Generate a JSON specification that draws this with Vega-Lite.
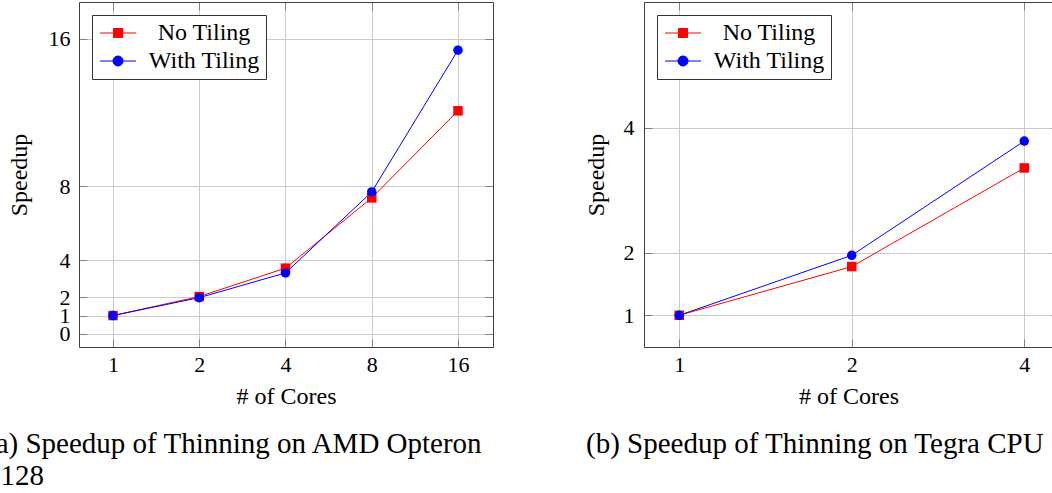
{
  "$schema": "https://vega.github.io/schema/vega-lite/v6.json",
  "padding": {"left": -14, "top": 1, "right": 0, "bottom": 0},
  "spacing": 90,
  "background": "white",
  "resolve": {"scale": {"color": "independent"}, "legend": {"color": "independent"}},
  "hconcat": [
    {
      "width": 414,
      "height": 345,
      "data": {"values": [
        {"cores": 1, "speedup": 1.0, "series": "No Tiling"},
        {"cores": 2, "speedup": 2.03, "series": "No Tiling"},
        {"cores": 4, "speedup": 3.57, "series": "No Tiling"},
        {"cores": 8, "speedup": 7.38, "series": "No Tiling"},
        {"cores": 16, "speedup": 12.1, "series": "No Tiling"},
        {"cores": 1, "speedup": 1.0, "series": "With Tiling"},
        {"cores": 2, "speedup": 1.97, "series": "With Tiling"},
        {"cores": 4, "speedup": 3.31, "series": "With Tiling"},
        {"cores": 8, "speedup": 7.7, "series": "With Tiling"},
        {"cores": 16, "speedup": 15.39, "series": "With Tiling"}
      ]},
      "title": {"text": ["(a) Speedup of Thinning on AMD Opteron", "6128"], "dx": -21},
      "layer": [
        {
          "mark": {"type": "line", "strokeWidth": 1},
          "encoding": {
            "x": {"field": "cores", "type": "quantitative",
              "scale": {"type": "log", "base": 2, "domain": [0.761, 21.2], "nice": false},
              "axis": {"orient": "bottom", "values": [1, 2, 4, 8, 16], "title": "# of Cores", "grid": true, "tickSize": -8, "labelPadding": 15, "titlePadding": 9}},
            "y": {"field": "speedup", "type": "quantitative",
              "scale": {"domain": [-0.705, 18.0], "nice": false, "zero": false},
              "axis": {"orient": "left", "values": [0, 1, 2, 4, 8, 16], "title": "Speedup", "grid": true, "tickSize": -8, "labelPadding": 17, "titlePadding": 17}},
            "color": {"field": "series", "type": "nominal",
              "scale": {"domain": ["No Tiling", "With Tiling"], "range": ["#ff0000", "#0000ff"]},
              "legend": {"title": null, "encode": {"symbols": {"update": {
                "shape": {"signal": "datum.value === 'No Tiling' ? 'M-1.8,0H1.8M-0.45,-0.45H0.45V0.45H-0.45Z' : 'M-1.8,0H1.8M0.5,0A0.5,0.5,0,1,1,-0.5,0A0.5,0.5,0,1,1,0.5,0Z'"},
                "fill": {"signal": "datum.value === 'No Tiling' ? '#ff0000' : '#0000ff'"},
                "stroke": {"signal": "datum.value === 'No Tiling' ? '#ff0000' : '#0000ff'"},
                "strokeWidth": {"value": 1},
                "opacity": {"value": 1}}}}}}
          }
        },
        {
          "transform": [{"filter": "datum.series === 'No Tiling'"}],
          "mark": {"type": "point", "shape": "square", "filled": true, "size": 90, "opacity": 1, "color": "#ff0000"},
          "encoding": {
            "x": {"field": "cores", "type": "quantitative",
              "axis": {"orient": "top", "values": [1, 2, 4, 8, 16], "title": null, "labels": false, "grid": false, "tickSize": -8}},
            "y": {"field": "speedup", "type": "quantitative",
              "axis": {"orient": "right", "values": [0, 1, 2, 4, 8, 16], "title": null, "labels": false, "grid": false, "tickSize": -8}}
          }
        },
        {
          "transform": [{"filter": "datum.series === 'With Tiling'"}],
          "mark": {"type": "point", "shape": "circle", "filled": true, "size": 90, "opacity": 1, "color": "#0000ff"},
          "encoding": {
            "x": {"field": "cores", "type": "quantitative", "axis": null},
            "y": {"field": "speedup", "type": "quantitative", "axis": null}
          }
        }
      ],
      "resolve": {"axis": {"x": "independent", "y": "independent"}}
    },
    {
      "width": 409,
      "height": 345,
      "data": {"values": [
        {"cores": 1, "speedup": 1.0, "series": "No Tiling"},
        {"cores": 2, "speedup": 1.78, "series": "No Tiling"},
        {"cores": 4, "speedup": 3.36, "series": "No Tiling"},
        {"cores": 1, "speedup": 1.0, "series": "With Tiling"},
        {"cores": 2, "speedup": 1.96, "series": "With Tiling"},
        {"cores": 4, "speedup": 3.79, "series": "With Tiling"}
      ]},
      "title": {"text": "(b) Speedup of Thinning on Tegra CPU", "dx": 2},
      "layer": [
        {
          "mark": {"type": "line", "strokeWidth": 1},
          "encoding": {
            "x": {"field": "cores", "type": "quantitative",
              "scale": {"type": "log", "base": 2, "domain": [0.868, 4.49], "nice": false},
              "axis": {"orient": "bottom", "values": [1, 2, 4], "title": "# of Cores", "grid": true, "tickSize": -8, "labelPadding": 15, "titlePadding": 9}},
            "y": {"field": "speedup", "type": "quantitative",
              "scale": {"domain": [0.492, 6.018], "nice": false, "zero": false},
              "axis": {"orient": "left", "values": [1, 2, 4], "title": "Speedup", "grid": true, "tickSize": -8, "labelPadding": 18, "titlePadding": 15}},
            "color": {"field": "series", "type": "nominal",
              "scale": {"domain": ["No Tiling", "With Tiling"], "range": ["#ff0000", "#0000ff"]},
              "legend": {"title": null, "encode": {"symbols": {"update": {
                "shape": {"signal": "datum.value === 'No Tiling' ? 'M-1.8,0H1.8M-0.45,-0.45H0.45V0.45H-0.45Z' : 'M-1.8,0H1.8M0.5,0A0.5,0.5,0,1,1,-0.5,0A0.5,0.5,0,1,1,0.5,0Z'"},
                "fill": {"signal": "datum.value === 'No Tiling' ? '#ff0000' : '#0000ff'"},
                "stroke": {"signal": "datum.value === 'No Tiling' ? '#ff0000' : '#0000ff'"},
                "strokeWidth": {"value": 1},
                "opacity": {"value": 1}}}}}}
          }
        },
        {
          "transform": [{"filter": "datum.series === 'No Tiling'"}],
          "mark": {"type": "point", "shape": "square", "filled": true, "size": 90, "opacity": 1, "color": "#ff0000"},
          "encoding": {
            "x": {"field": "cores", "type": "quantitative",
              "axis": {"orient": "top", "values": [1, 2, 4], "title": null, "labels": false, "grid": false, "tickSize": -8}},
            "y": {"field": "speedup", "type": "quantitative",
              "axis": {"orient": "right", "values": [1, 2, 4], "title": null, "labels": false, "grid": false, "tickSize": -2, "domain": false}}
          }
        },
        {
          "transform": [{"filter": "datum.series === 'With Tiling'"}],
          "mark": {"type": "point", "shape": "circle", "filled": true, "size": 90, "opacity": 1, "color": "#0000ff"},
          "encoding": {
            "x": {"field": "cores", "type": "quantitative", "axis": null},
            "y": {"field": "speedup", "type": "quantitative", "axis": null}
          }
        }
      ],
      "resolve": {"axis": {"x": "independent", "y": "independent"}}
    }
  ],
  "config": {
    "view": {"stroke": null},
    "font": "Liberation Serif",
    "axis": {
      "labelFont": "Liberation Serif", "labelFontSize": 22, "labelColor": "#000000",
      "titleFont": "Liberation Serif", "titleFontSize": 24, "titleFontWeight": "normal", "titleColor": "#000000",
      "tickColor": "#808080", "tickWidth": 1,
      "gridColor": "#cccccc", "gridWidth": 1,
      "domainColor": "#404040", "domainWidth": 1,
      "labelOverlap": false, "labelFlush": false, "labelBound": false
    },
    "legend": {
      "orient": "top-left", "offset": 13, "padding": 6, "rowPadding": 4,
      "strokeColor": "#333333", "fillColor": "#ffffff",
      "symbolSize": 400, "symbolStrokeWidth": 1, "symbolOffset": 8,
      "labelFont": "Liberation Serif", "labelFontSize": 24, "labelColor": "#000000",
      "labelAlign": "center", "labelOffset": 74, "labelLimit": 0
    },
    "title": {
      "font": "Liberation Serif", "fontSize": 29, "fontWeight": "normal", "color": "#000000",
      "orient": "bottom", "anchor": "start", "frame": "bounds", "offset": 22, "lineHeight": 32
    }
  }
}
